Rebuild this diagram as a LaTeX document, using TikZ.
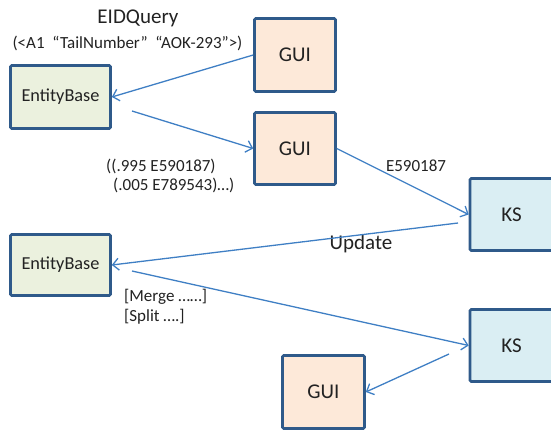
\documentclass[tikz,border=0pt]{standalone}
\usepackage{fontspec}
\setmainfont{Carlito}
\usetikzlibrary{arrows.meta}
\definecolor{boxline}{HTML}{2F5A8A}
\definecolor{ebfill}{HTML}{EBF1DE}
\definecolor{guifill}{HTML}{FDE9D9}
\definecolor{ksfill}{HTML}{DAEEF3}
\definecolor{arrowblue}{HTML}{3F7FC4}
\definecolor{txt}{HTML}{222222}
\tikzset{
  box/.style={draw=boxline, line width=2.6pt, rounded corners=1.2pt, text=txt, inner sep=0pt},
  ebbox/.style={box, fill=ebfill, minimum width=100pt, minimum height=63pt, font=\fontsize{18.3}{20}\selectfont},
  guibox/.style={box, fill=guifill, minimum width=81pt, minimum height=73pt, font=\fontsize{21}{24}\selectfont},
  ksbox/.style={box, fill=ksfill, minimum width=83pt, minimum height=72pt, font=\fontsize{21}{24}\selectfont},
  conn/.style={draw=arrowblue, line width=1.3pt, -{Straight Barb[length=6pt,width=12pt,line width=1.3pt]}},
  bigtxt/.style={text=txt, inner sep=0pt, font=\fontsize{21}{24}\selectfont},
  smalltxt/.style={text=txt, inner sep=0pt, font=\fontsize{17}{19}\selectfont},
}
\begin{document}
\begin{tikzpicture}[x=1pt,y=-1pt]
\useasboundingbox (0,0) rectangle (551,429);
\node[ebbox] (eb1) at (60.5,97) {EntityBase};
\node[guibox] (gui1) at (295,55) {GUI};
\node[guibox, minimum height=72pt] (gui2) at (295,148.5) {GUI};
\node[ksbox] (ks1) at (511.5,214.5) {KS};
\node[ebbox, minimum height=61pt] (eb2) at (60.5,265) {EntityBase};
\node[ksbox] (ks2) at (511.5,345.5) {KS};
\node[guibox, minimum width=82pt] (gui3) at (323.5,392) {GUI};

\node[bigtxt] (eidq) at (138,18) {EIDQuery};
\node[smalltxt] (tail) at (127.5,43) {(<A1\ \ “TailNumber”\ \ “AOK-293”>)};
\node[smalltxt, anchor=west] (p1) at (106,166) {((.995 E590187)};
\node[smalltxt, anchor=west] (p2) at (113,185) {(.005 E789543)…)};
\node[smalltxt] (e59) at (416,166) {E590187};
\node[bigtxt] (upd) at (361,244) {Update};
\node[smalltxt, anchor=west] (mrg) at (124,297) {[Merge ……]};
\node[smalltxt, anchor=west] (spl) at (124,317) {[Split ….]};

\coordinate (s2) at (132,111);
\coordinate (s4) at (458,223);
\coordinate (s5) at (132,271);
\coordinate (s6) at (449,354);

\draw[conn] (gui1.west) -- (eb1.east);
\draw[conn] (s2) -- (gui2.west);
\draw[conn] (gui2.east) -- (ks1.west);
\draw[conn] (s4) -- (eb2.east);
\draw[conn] (s5) -- (ks2.west);
\draw[conn] (s6) -- (gui3.east);
\end{tikzpicture}
\end{document}
